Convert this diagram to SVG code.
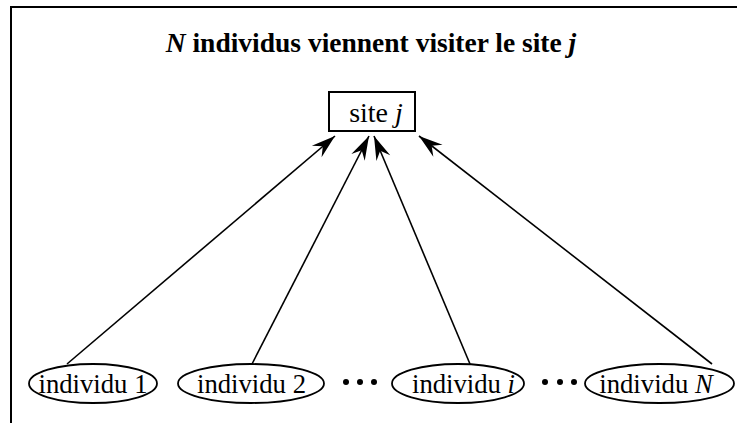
<svg xmlns="http://www.w3.org/2000/svg" width="737" height="423" viewBox="0 0 737 423">
<style>
.t{font-family:"Liberation Serif","Times New Roman",serif;fill:#000}
.lbl{font-size:26.7px;text-anchor:middle}
.node{fill:#fff;stroke:#000;stroke-width:1.8}
.edge{stroke:#000;stroke-width:1.6;fill:none;marker-end:url(#ah)}
.dot{fill:#000}
</style>
<defs>
<marker id="ah" markerUnits="userSpaceOnUse" viewBox="-26 -9 28 18" refX="0" refY="0" markerWidth="28" markerHeight="18" orient="auto">
<path d="M0,0 L-24,-7.5 L-16,0 L-24,7.5 Z" fill="#000"/>
</marker>
</defs>
<rect x="0" y="0" width="737" height="423" fill="#fff"/>
<rect x="11" y="7" width="740" height="430" fill="none" stroke="#000" stroke-width="2"/>
<text class="t" x="371" y="52" text-anchor="middle" font-size="27.5" font-weight="bold"><tspan font-style="italic">N</tspan> individus viennent visiter le site <tspan font-style="italic">j</tspan></text>
<g id="site">
<rect x="329" y="92" width="86" height="39" fill="#fff" stroke="#000" stroke-width="2"/>
<text class="t" x="376" y="122" text-anchor="middle" font-size="28">site <tspan font-style="italic">j</tspan></text>
</g>
<g id="connectors">
<line class="edge" x1="67" y1="364" x2="335" y2="136"/>
<line class="edge" x1="252" y1="364" x2="369" y2="136"/>
<line class="edge" x1="470" y1="364" x2="374" y2="136"/>
<line class="edge" x1="712" y1="364" x2="419" y2="136"/>
</g>
<g id="ind1">
<ellipse class="node" cx="93" cy="383.5" rx="64" ry="19.5"/>
<text class="t lbl" x="93" y="393">individu 1</text>
</g>
<g id="ind2">
<ellipse class="node" cx="251" cy="383.5" rx="73" ry="19.5"/>
<text class="t lbl" x="251.5" y="393">individu 2</text>
</g>
<g id="dots1">
<circle class="dot" cx="346" cy="382" r="3"/>
<circle class="dot" cx="360" cy="382" r="3"/>
<circle class="dot" cx="374" cy="382" r="3"/>
</g>
<g id="indi">
<ellipse class="node" cx="458" cy="383.5" rx="66" ry="19.5"/>
<text class="t lbl" x="463.5" y="393">individu <tspan font-style="italic">i</tspan></text>
</g>
<g id="dots2">
<circle class="dot" cx="545" cy="382" r="3"/>
<circle class="dot" cx="560" cy="382" r="3"/>
<circle class="dot" cx="574" cy="382" r="3"/>
</g>
<g id="indN">
<ellipse class="node" cx="659.5" cy="383.5" rx="74.5" ry="19.5"/>
<text class="t lbl" x="656" y="393">individu <tspan font-style="italic">N</tspan></text>
</g>
</svg>
